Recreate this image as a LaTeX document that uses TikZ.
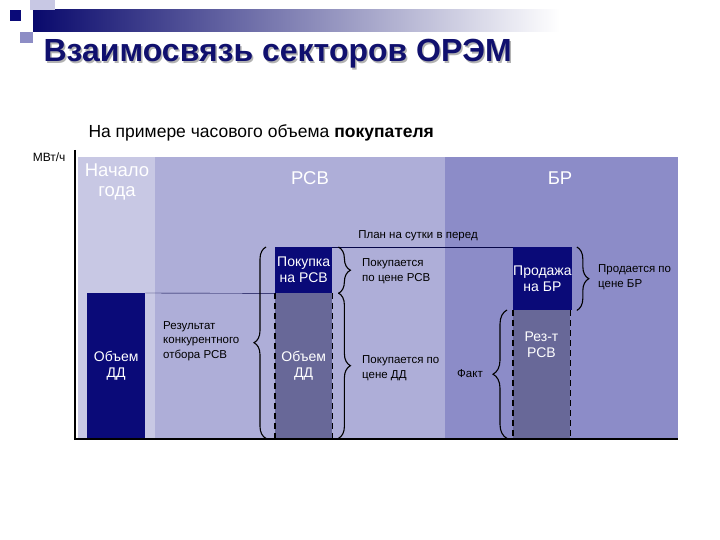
\documentclass[tikz,border=0pt]{standalone}
\usepackage{fontspec}
\setmainfont{Liberation Sans}
\usetikzlibrary{decorations.pathreplacing}

\definecolor{navy}{RGB}{10,10,120}
\definecolor{titleblue}{RGB}{16,16,110}
\definecolor{yearcol}{RGB}{200,200,228}
\definecolor{rsvcol}{RGB}{174,174,216}
\definecolor{brcol}{RGB}{140,140,200}
\definecolor{factcol}{RGB}{104,104,152}

\begin{document}
\begin{tikzpicture}[
	x=1pt, y=-1pt,
	panel/.style={inner sep=0pt, anchor=north west, minimum height=281pt},
	head/.style={text=white, font=\fontsize{18.5}{20}\selectfont, align=center},
	plan/.style={fill=navy, text=white, font=\fontsize{14}{16}\selectfont, align=center, inner sep=0pt, anchor=north west, minimum width=57pt},
	fact/.style={fill=factcol, text=white, font=\fontsize{14}{16}\selectfont, align=center, inner sep=0pt, anchor=north west, minimum width=57pt},
	note/.style={font=\fontsize{11.5}{14.5}\selectfont, align=left, inner sep=0pt},
	brace/.style={decorate, decoration={brace, amplitude=12pt}, line width=1.1pt},
	dashedge/.style={dash pattern=on 6pt off 4pt, line width=1.1pt}
]
	\useasboundingbox (0,0) rectangle (720,540);

	\shade[left color=navy!90!black, right color=white] (33,10) rectangle (560,32);
	\fill[yearcol] (30,0) rectangle (55,10);
	\fill[navy] (10,10) rectangle (21,21);
	\fill[rsvcol!80!navy] (20,32) rectangle (33,43);

	\node[anchor=base west, font=\fontsize{32}{36}\selectfont\bfseries, text=black!30] (titleshadow) at (41.5,63.5) {Взаимосвязь секторов ОРЭМ};
	\node[anchor=base west, font=\fontsize{32}{36}\selectfont\bfseries, text=titleblue] (title) at (40,62) {Взаимосвязь секторов ОРЭМ};
	\node[anchor=base west, font=\fontsize{17.5}{20}\selectfont] (subtitle) at (85,138) {На примере часового объема \textbf{покупателя}};
	\node[anchor=east, font=\fontsize{12}{14}\selectfont] (unit) at (69,157) {МВт/ч};

	\node[panel, fill=yearcol, minimum width=77pt] (year) at (78,157) {};
	\node[panel, fill=rsvcol, minimum width=290pt] (rsv) at (155,157) {};
	\node[panel, fill=brcol, minimum width=233pt] (br) at (445,157) {};
	\node[head] (yearhead) at (117,182) {Начало\\года};
	\node[head] (rsvhead) at (310,178) {РСВ};
	\node[head] (brhead) at (560,178) {БР};

	\node[plan, minimum width=58pt, minimum height=145pt] (ddleft) at (87,293) {Объем\\ДД};
	\node[plan, minimum height=46pt] (buy) at (275,247) {Покупка\\на РСВ};
	\node[fact, minimum height=145pt] (dd) at (275,293) {Объем\\ДД};
	\node[plan, minimum height=63pt] (sell) at (513,247) {Продажа\\на БР};
	\node[fact, minimum height=128pt] (rezt) at (513,310) {};
	\node[text=white, font=\fontsize{14}{16}\selectfont, align=center] (rezttext) at (541.5,345) {Рез-т\\РСВ};

	\draw[dashedge] (dd.north west) -- (dd.south west);
	\draw[dashedge] (dd.north east) -- (dd.south east);
	\draw[dashedge] (rezt.north west) -- (rezt.south west);
	\draw[dashedge] (rezt.north east) -- (rezt.south east);

	\draw[navy!60!black] (ddleft.north east) -- (buy.south west);
	\draw[navy!60!black] (buy.north east) -- (sell.north west);

	\draw[brace] ([xshift=-9pt]dd.south west) -- ([xshift=-9pt]buy.north west);
	\draw[brace] ([xshift=6pt]buy.north east) -- ([xshift=6pt]buy.south east);
	\draw[brace] ([xshift=6pt]dd.north east) -- ([xshift=6pt]dd.south east);
	\draw[brace, decoration={amplitude=14pt}] ([xshift=-6pt]rezt.south west) -- ([xshift=-6pt]rezt.north west);
	\draw[brace] ([xshift=5pt]sell.north east) -- ([xshift=5pt]sell.south east);

	\node[note] (plannote) at (418,236) {План на сутки в перед};
	\node[note, anchor=west] (result) at (163,341) {Результат\\конкурентного\\отбора РСВ};
	\node[note, anchor=west] (buynote) at (362,271) {Покупается\\по цене РСВ};
	\node[note, anchor=west] (ddnote) at (362,368) {Покупается по\\цене ДД};
	\node[note, anchor=east] (facttext) at (483,374) {Факт};
	\node[note, anchor=west] (sellnote) at (598,277) {Продается по\\цене БР};

	\coordinate (ytop) at (75,150);
	\coordinate (origin) at (75,439);
	\coordinate (xend) at (678,439);
	\draw[line width=2.5pt] (ytop) -- (origin) -- (xend);
\end{tikzpicture}
\end{document}
